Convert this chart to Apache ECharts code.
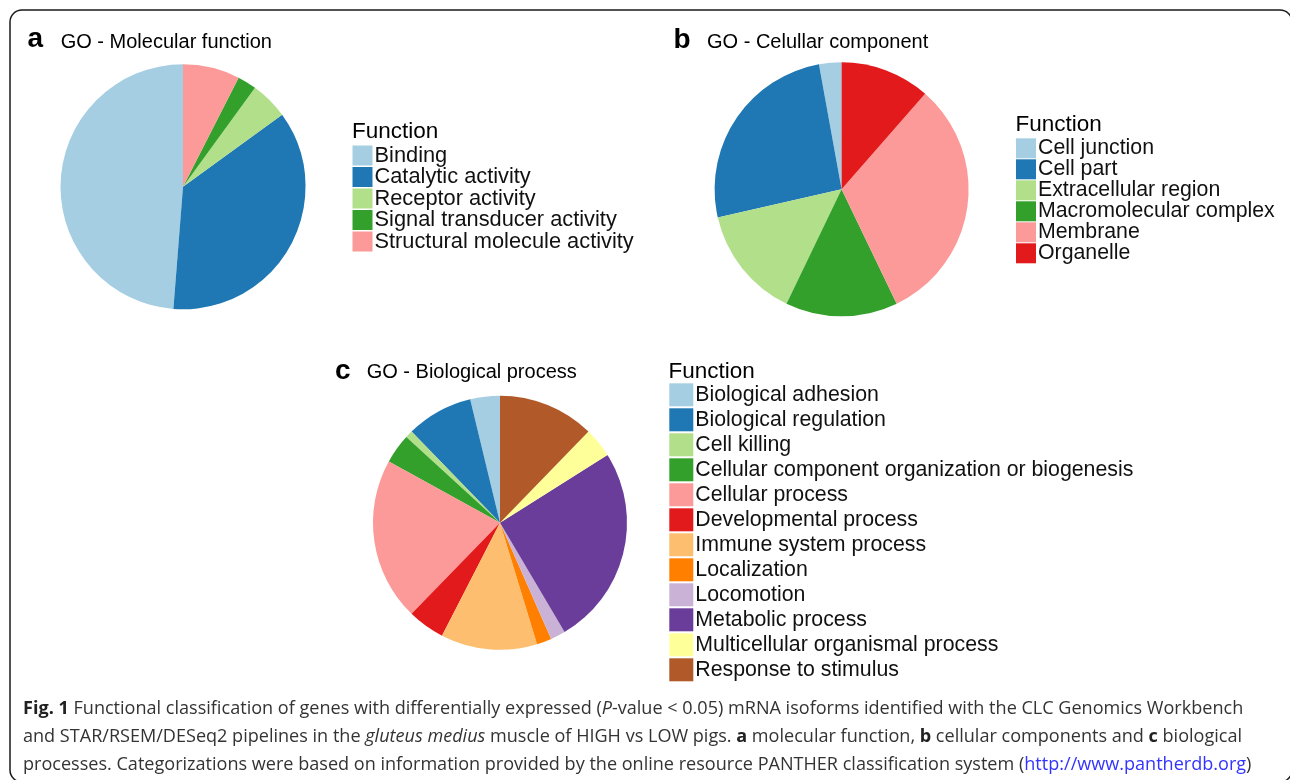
<!DOCTYPE html>
<html>
<head>
<meta charset="utf-8">
<script src="https://cdn.jsdelivr.net/npm/echarts@6/dist/echarts.min.js"></script>
<style>
  html, body { margin: 0; padding: 0; background: #ffffff; }
  #chart { width: 1290px; height: 780px; }
</style>
</head>
<body>
<div id="chart"></div>
<script>
// GO - Molecular function (gene counts)
const molecularNames = ['Binding', 'Catalytic activity', 'Receptor activity', 'Signal transducer activity', 'Structural molecule activity'];
const molecularCounts = [39, 29, 4, 2, 6];

// GO - Cellular component (gene counts)
const componentNames = ['Cell junction', 'Cell part', 'Extracellular region', 'Macromolecular complex', 'Membrane', 'Organelle'];
const componentCounts = [1, 9, 5, 5, 11, 4];

// GO - Biological process (gene counts)
const processNames = ['Biological adhesion', 'Biological regulation', 'Cell killing', 'Cellular component organization or biogenesis',
  'Cellular process', 'Developmental process', 'Immune system process', 'Localization', 'Locomotion',
  'Metabolic process', 'Multicellular organismal process', 'Response to stimulus'];
const processCounts = [4, 9, 1, 4, 22, 5, 13, 2, 2, 27, 4, 13];

// Paired palettes for each panel
const molecularColors = ['#a6cee3', '#1f78b4', '#b2df8a', '#33a02c', '#fb9a99'];
const componentColors = ['#a6cee3', '#1f78b4', '#b2df8a', '#33a02c', '#fb9a99', '#e31a1c'];
const processColors = ['#a6cee3', '#1f78b4', '#b2df8a', '#33a02c', '#fb9a99', '#e31a1c',
  '#fdbf6f', '#ff7f00', '#cab2d6', '#6a3d9a', '#ffff99', '#b15928'];

// Figure caption, one entry per line; segments tagged b (bold), i (italic), u (link)
const captionLines = [
  [['b', 'Fig. 1'], ['', ' Functional classification of genes with differentially expressed ('], ['i', 'P'],
   ['', '-value < 0.05) mRNA isoforms identified with the CLC Genomics Workbench']],
  [['', 'and STAR/RSEM/DESeq2 pipelines in the '], ['i', 'gluteus medius'],
   ['', ' muscle of HIGH vs LOW pigs. '], ['b', 'a'], ['', ' molecular function, '], ['b', 'b'],
   ['', ' cellular components and '], ['b', 'c'], ['', ' biological']],
  [['', 'processes. Categorizations were based on information provided by the online resource PANTHER classification system ('],
   ['u', 'http://www.pantherdb.org'], ['', ')']]
];

const sansFont = '"Liberation Sans", Arial, Helvetica, sans-serif';
const captionFont = '"Open Sans", "Noto Sans", sans-serif';

function toData(names, counts, colors) {
  return names.map((n, i) => ({ name: n, value: counts[i], itemStyle: { color: colors[i] } }));
}

function pieSeries(name, data, center, radius) {
  return {
    type: 'pie', name: name, data: data, center: center, radius: [0, radius],
    startAngle: 90, clockwise: false, avoidLabelOverlap: false,
    label: { show: false }, labelLine: { show: false },
    itemStyle: { borderWidth: 0 },
    emphasis: { disabled: true }, silent: true
  };
}

function legendBlock(names, left, top, w, h, gap, fontSize) {
  return {
    orient: 'vertical', left: left, top: top, padding: 0,
    itemWidth: w, itemHeight: h, itemGap: gap, icon: 'rect',
    selectedMode: false, data: names,
    itemStyle: { borderWidth: 0 },
    textStyle: { fontFamily: sansFont, fontSize: fontSize, color: '#111', lineHeight: h, padding: [0, 0, 0, -3] }
  };
}

// Fit the caption size so the first line spans the text column
function segFont(tag, size) {
  return (tag === 'i' ? 'italic ' : '') + (tag === 'b' ? 'bold ' : '') + size + 'px ' + captionFont;
}
const measureCtx = document.createElement('canvas').getContext('2d');
function lineWidth(line, size) {
  let w = 0;
  line.forEach(([tag, t]) => { measureCtx.font = segFont(tag, size); w += measureCtx.measureText(t).width; });
  return w;
}
const captionSize = 16 * 1221 / lineWidth(captionLines[0], 16);
const captionBaselines = [716, 744, 772];

function richText(line) {
  return line.map(([tag, t]) => tag ? '{' + tag + '|' + t + '}' : '{n|' + t + '}').join('');
}

const captionGraphics = captionLines.map((line, k) => ({
  type: 'text', silent: true,
  style: {
    x: 23, y: captionBaselines[k] - 0.388 * captionSize,
    text: richText(line), verticalAlign: 'middle', align: 'left',
    font: captionSize + 'px ' + captionFont, fill: '#333',
    rich: {
      n: { fontSize: captionSize, fontFamily: captionFont, fill: '#333', color: '#333' },
      b: { fontSize: captionSize, fontFamily: captionFont, fontWeight: 'bold', fill: '#222', color: '#222' },
      i: { fontSize: captionSize, fontFamily: captionFont, fontStyle: 'italic', fill: '#333', color: '#333' },
      u: { fontSize: captionSize, fontFamily: captionFont, fill: '#3333ff', color: '#3333ff' }
    }
  }
}));

function label(text, x, y, size, bold) {
  return {
    type: 'text', silent: true,
    style: { x: x, y: y, text: text, verticalAlign: 'middle', align: 'left',
      font: (bold ? 'bold ' : '') + size + 'px ' + sansFont, fill: '#000' }
  };
}

const chart = echarts.init(document.getElementById('chart'), null, { renderer: 'canvas' });
chart.setOption({
  animation: false,
  backgroundColor: '#ffffff',
  legend: [
    legendBlock(molecularNames, 352.5, 144.5, 20, 20, -0.5, 21.8),
    legendBlock(componentNames, 1016, 137.8, 20, 20, 0, 21.3),
    legendBlock(processNames, 669.3, 383.3, 24, 23, 2, 21.3)
  ],
  series: [
    pieSeries('GO - Molecular function', toData(molecularNames, molecularCounts, molecularColors), [183, 186.8], 122.5),
    pieSeries('GO - Celullar component', toData(componentNames, componentCounts, componentColors), [841.6, 189.3], 127),
    pieSeries('GO - Biological process', toData(processNames, processCounts, processColors), [500, 522.7], 127)
  ],
  graphic: [
    { type: 'rect', silent: true, shape: { x: 10, y: 10, width: 1282, height: 772, r: 12 },
      style: { fill: 'none', stroke: '#1a1a1a', lineWidth: 1.5 } },
    label('a', 27.5, 39.6, 28, true),
    label('GO - Molecular function', 60.7, 42.4, 20, false),
    label('Function', 352, 132.2, 22.5, false),
    label('b', 673.5, 40.3, 28, true),
    label('GO - Celullar component', 707, 42, 20, false),
    label('Function', 1015.5, 124.9, 22.5, false),
    label('c', 335, 371, 28, true),
    label('GO - Biological process', 366.7, 372.4, 20, false),
    label('Function', 668.5, 372.2, 22.5, false)
  ].concat(captionGraphics)
});
</script>
</body>
</html>
